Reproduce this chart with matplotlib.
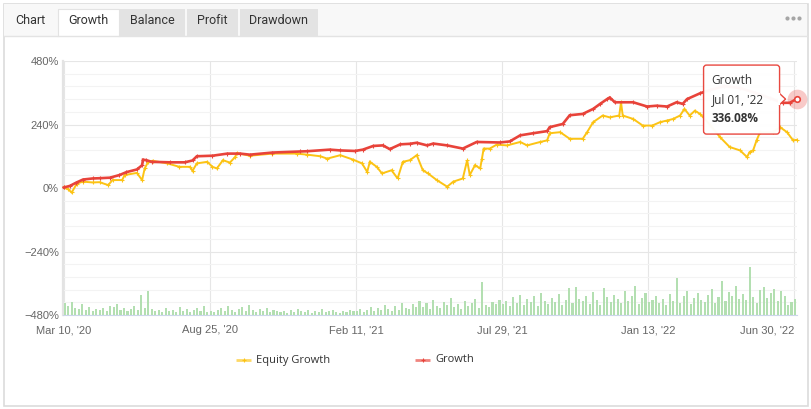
import numpy as np
import matplotlib
matplotlib.use("Agg")
import matplotlib.pyplot as plt
from matplotlib.patches import Rectangle, FancyBboxPatch, Polygon

# ---------------- data ----------------
tabs = ["Chart", "Growth", "Balance", "Profit", "Drawdown"]
active_tab = "Growth"
series_names = ["Equity Growth", "Growth"]

x_tick_days = [0, 168, 336, 504, 672, 840]
x_tick_labels = ["Mar 10, '20", "Aug 25, '20", "Feb 11, '21", "Jul 29, '21", "Jan 13, '22", "Jun 30, '22"]
y_ticks = [-480, -240, 0, 240, 480]

growth_days = [0, 7, 14, 22, 33, 41, 53, 64, 72, 84, 90, 91, 95, 101, 122, 139, 148, 153, 171, 188,
               203, 214, 240, 272, 280, 306, 318, 335, 344, 356, 367, 375, 387, 398, 406, 418, 425,
               441, 459, 475, 502, 513, 525, 540, 556, 559, 574, 582, 597, 609, 617, 625, 628, 634,
               655, 671, 682, 694, 705, 712, 717, 732, 743, 760, 778, 795, 812, 827, 835, 843]
growth_pct = [2, 8, 20, 32, 36, 37, 39, 49, 60, 70, 86, 107, 105, 99, 97, 97, 104, 120, 122, 130,
              130, 126, 134, 138, 139, 145, 142, 140, 145, 159, 161, 147, 165, 167, 171, 161, 168,
              161, 149, 174, 172, 176, 199, 207, 215, 230, 242, 275, 280, 299, 318, 336, 342, 324,
              324, 308, 311, 308, 324, 318, 336, 358, 370, 385, 378, 360, 340, 322, 322, 336.08]

equity_days = [0, 5, 9, 15, 22, 33, 41, 51, 56, 67, 70, 84, 90, 93, 97, 102, 119, 133, 145, 148,
               153, 165, 171, 176, 183, 191, 197, 199, 214, 240, 268, 280, 295, 303, 318, 333, 343,
               349, 352, 360, 366, 377, 384, 390, 398, 406, 413, 419, 429, 441, 448, 459, 464, 467,
               473, 479, 481, 483, 490, 498, 510, 525, 533, 548, 556, 559, 571, 582, 597, 602, 609,
               620, 628, 639, 641, 643, 655, 666, 677, 686, 694, 701, 709, 714, 720, 726, 732, 743,
               755, 766, 778, 786, 789, 793, 797, 801, 816, 824, 832, 839, 843]
equity_pct = [2, -5, -17, 17, 24, 21, 22, 11, 30, 30, 49, 57, 30, 74, 99, 103, 93, 80, 80, 65,
              93, 99, 80, 74, 105, 96, 117, 132, 122, 130, 130, 126, 120, 111, 124, 107, 93,
              61, 99, 80, 55, 67, 36, 99, 105, 124, 67, 55, 30, 5, 24, 36, 105, 49,
              86, 74, 111, 149, 149, 164, 161, 174, 161, 174, 180, 207, 211, 186, 186, 211, 249,
              274, 267, 274, 324, 274, 261, 236, 236, 249, 255, 261, 274, 299, 274, 292, 280, 240,
              192, 155, 142, 117, 136, 142, 180, 211, 211, 230, 211, 180, 182]

volume = [12, 9, 13, 7, 6, 11, 5, 8, 4, 6, 5, 7, 4, 9, 8, 11, 5, 7, 4, 6, 9, 5,
          20, 7, 24,
          6, 4, 5, 3, 7, 4, 5, 3, 8, 4, 6, 3, 5, 7, 4, 9, 3,
          4, 3, 5, 7, 4, 9, 5, 3, 6, 8, 4, 10, 5, 3, 6, 4, 7, 3, 5, 4,
          3, 4, 2, 5, 3, 6, 4, 3, 5, 2, 4, 3, 6, 3, 4, 5, 3, 2, 4, 3, 5, 4,
          4, 6, 3, 5, 8, 4, 7, 5, 10, 6, 4, 9, 5, 12, 7, 6, 11, 8, 14,
          8, 12, 6, 15, 9, 7, 13, 10, 17, 8, 11, 6, 14, 9, 12, 16, 7, 33, 10, 8, 13, 11, 15,
          11, 14, 9, 18, 12, 20, 10, 16, 13, 19, 9, 22, 14, 11, 17, 13, 21, 10, 15, 27, 12, 28, 16,
          14, 19, 11, 23, 15, 10, 27, 18, 13, 20, 16, 12, 24, 14, 19, 29, 11, 17, 22, 13, 15, 19, 12,
          16, 10, 21, 14, 37, 12, 19, 24, 11, 17, 22, 15, 13, 20, 26, 12, 18, 34, 14, 23, 19, 29, 16,
          21, 15, 48, 18, 12, 25, 28, 17, 22, 26, 14, 24, 19, 10, 13, 16]
volume_step_days = 4

tooltip_date = "Jul 01, '22"

# ---------------- style ----------------
RED = "#e8433a"
YELLOW = "#fcc314"
GREEN = "#b3dfb1"
TXT = "#333333"
AX_TXT = "#666666"

W, H = 811, 409
fig = plt.figure(figsize=(W / 100, H / 100), dpi=100)
fig.patch.set_facecolor("white")

# background / card / tabs
bg = fig.add_axes([0, 0, 1, 1])
bg.set_zorder(-5)
bg.set_xlim(0, W)
bg.set_ylim(H, 0)
bg.axis("off")
bg.add_patch(Rectangle((3.5, 3.5), 804, 402, fc="white", ec="#dcdcdc", lw=1.2))
bg.add_patch(Rectangle((4, 4), 803, 31.5, fc="#f8f8f8", ec="none"))
bg.plot([4, 807], [35.5, 35.5], color="#e3e3e3", lw=1)
tab_x = [(8, 50), (58, 119), (120, 185), (187, 238), (240, 318)]
for name, (x0, x1) in zip(tabs, tab_x):
    if name == "Chart":
        pass
    elif name == active_tab:
        bg.add_patch(Rectangle((x0, 8.5), x1 - x0, 28, fc="white", ec="none"))
        bg.plot([x0, x0, x1, x1], [36, 8.5, 8.5, 36], color="#e3e3e3", lw=0.8)
    else:
        bg.add_patch(Rectangle((x0, 8.5), x1 - x0, 27, fc="#e3e3e3", ec="none"))
    bg.text((x0 + x1) / 2 + (1 if name == "Chart" else 0), 21, name, ha="center", va="center",
            fontsize=9, color=TXT, family="Roboto")
for dx in (787, 793, 799):
    bg.plot(dx, 17.5, "o", ms=3, color="#a6a6a6", mec="none")

# main axes
L, R, T, B = 63, 797, 61, 315
rect = [L / W, 1 - B / H, (R - L) / W, (B - T) / H]
ax = fig.add_axes(rect)
ax.set_zorder(1)
ax.patch.set_visible(False)
ax.set_xlim(-1, 843.5)
ax.set_ylim(-480, 480)
ax.set_yticks(y_ticks)
ax.set_yticks(np.arange(-480, 481, 48), minor=True)
ax.set_yticklabels([f"{v}%".replace("-", "\u2212") for v in y_ticks],
                   family="Liberation Sans", fontsize=8, color=AX_TXT)
ax.set_xticks(x_tick_days)
ax.set_xticklabels(x_tick_labels, family="Liberation Sans", fontsize=8, color=AX_TXT)
ax.xaxis.get_ticklabels()[-1].set_horizontalalignment("right")
ax.tick_params(axis="both", which="both", length=0)
ax.tick_params(axis="x", pad=7.5)
ax.tick_params(axis="y", pad=3)
ax.grid(which="major", axis="both", color="#e6e6e6", lw=0.8)
ax.grid(which="minor", axis="y", color="#f3f3f3", lw=0.8)
for s in ("top", "right"):
    ax.spines[s].set_visible(False)
ax.spines["left"].set_color("#e3e3e3")
ax.spines["left"].set_linewidth(1.6)
ax.spines["bottom"].set_color("#ccd6eb")
ax.spines["bottom"].set_linewidth(0.8)

# volume bars
axv = fig.add_axes(rect, sharex=ax)
axv.set_zorder(2)
axv.patch.set_visible(False)
axv.set_ylim(0, B - T)
axv.axis("off")
vol_x = np.arange(len(volume)) * volume_step_days
axv.bar(vol_x, volume, width=2.4, color=GREEN, lw=0, align="edge")

# lines
axl = fig.add_axes(rect, sharex=ax)
axl.set_zorder(3)
axl.patch.set_visible(False)
axl.set_ylim(-480, 480)
axl.axis("off")
axl.plot(equity_days, equity_pct, color=YELLOW, lw=1.4, solid_joinstyle="miter",
         marker="+", ms=2.5, mew=0.8, clip_on=False)
axl.plot(growth_days, growth_pct, color=RED, lw=1.9, solid_joinstyle="miter",
         marker="+", ms=2.5, mew=0.8, clip_on=False)
axl.scatter([growth_days[-1]], [growth_pct[-1]], s=200, color=RED, alpha=0.28, lw=0, clip_on=False)
axl.scatter([growth_days[-1]], [growth_pct[-1]], s=16, facecolor="white", edgecolor=RED, lw=1.2,
            clip_on=False, zorder=5)

# overlay: tooltip and legend
ov = fig.add_axes([0, 0, 1, 1])
ov.set_zorder(10)
ov.patch.set_visible(False)
ov.set_xlim(0, W)
ov.set_ylim(H, 0)
ov.axis("off")

fig.canvas.draw()
px, py = axl.transData.transform((growth_days[-1], growth_pct[-1]))
py = H - py
bx1 = px - 17
bx0 = bx1 - 76
by0, by1 = py - 34, py + 35
ov.add_patch(FancyBboxPatch((bx0, by0), bx1 - bx0, by1 - by0,
                            boxstyle="round,pad=0,rounding_size=3",
                            fc="white", ec=RED, lw=1.0, alpha=0.97))
ov.add_patch(Polygon([(bx1 - 0.5, py - 6), (bx1 + 6, py), (bx1 - 0.5, py + 6)], closed=True,
                     fc="white", ec=RED, lw=1.0))
ov.plot([bx1 - 0.2, bx1 - 0.2], [py - 5.2, py + 5.2], color="white", lw=1.6)
ov.text(bx0 + 8, by0 + 15.5, series_names[1], fontsize=8.5, color=TXT, family="Open Sans",
        va="center")
ov.text(bx0 + 8, by0 + 34.5, tooltip_date, fontsize=8.5, color=TXT, family="Open Sans",
        va="center")
ov.text(bx0 + 8, by0 + 53, f"{growth_pct[-1]:.2f}%", fontsize=8.5, color=TXT, family="Open Sans",
        fontweight="bold", va="center")

leg_y = 360
for (x0, name, col) in [(236, series_names[0], YELLOW), (415, series_names[1], RED)]:
    ov.plot([x0, x0 + 15], [leg_y, leg_y], color=col, lw=2, alpha=0.65, solid_capstyle="butt")
    ov.plot(x0 + 7.5, leg_y, marker="+", ms=3, color=col, mew=0.8)
    ov.text(x0 + 20, leg_y, name, fontsize=8, color=TXT, family="Open Sans", va="center")

fig.savefig("out.png", dpi=100, facecolor="white")
